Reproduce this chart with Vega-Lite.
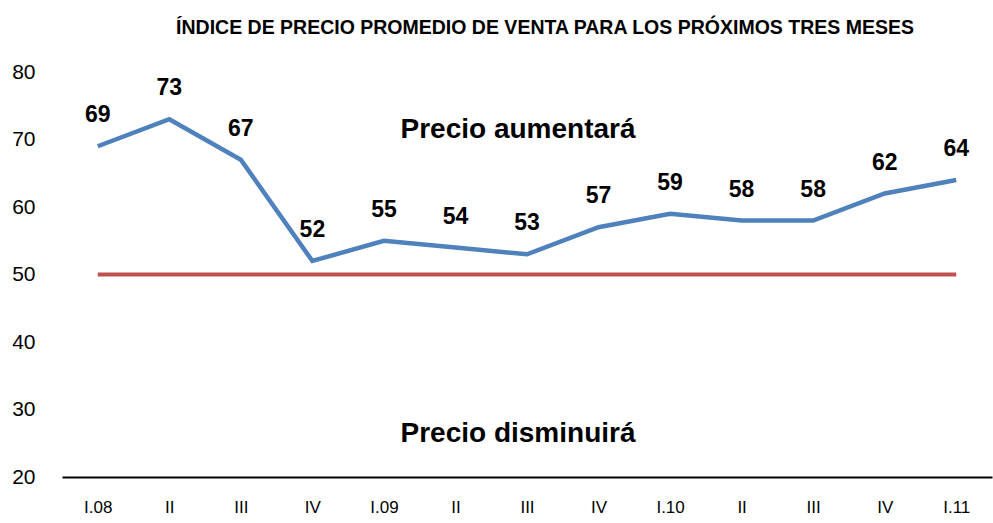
{
  "$schema": "https://vega.github.io/schema/vega-lite/v6.json",
  "width": 930,
  "height": 405,
  "autosize": {"type": "none"},
  "padding": {"left": 62, "top": 72, "right": 1, "bottom": 46},
  "background": "white",
  "title": {
    "text": "ÍNDICE DE PRECIO PROMEDIO DE VENTA PARA LOS PRÓXIMOS TRES MESES",
    "font": "Liberation Sans",
    "fontSize": 19.5,
    "fontWeight": "bold",
    "color": "#000000",
    "anchor": "middle",
    "dx": 18,
    "offset": 23
  },
  "config": {
    "view": {"stroke": null},
    "axis": {"grid": false, "ticks": false, "labelColor": "#000000", "labelFont": "Liberation Sans"}
  },
  "data": {
    "values": [
      {"q": "I.08", "v": 69},
      {"q": "II.08", "v": 73},
      {"q": "III.08", "v": 67},
      {"q": "IV.08", "v": 52},
      {"q": "I.09", "v": 55},
      {"q": "II.09", "v": 54},
      {"q": "III.09", "v": 53},
      {"q": "IV.09", "v": 57},
      {"q": "I.10", "v": 59},
      {"q": "II.10", "v": 58},
      {"q": "III.10", "v": 58},
      {"q": "IV.10", "v": 62},
      {"q": "I.11", "v": 64}
    ]
  },
  "encoding": {
    "x": {
      "field": "q",
      "type": "ordinal",
      "sort": null,
      "scale": {"type": "point", "padding": 0.5},
      "axis": {
        "title": null,
        "labelAngle": 0,
        "labelFontSize": 17,
        "labelPadding": 22,
        "domainColor": "#000000",
        "domainWidth": 2,
        "labelExpr": "indexof(datum.label,'I.')==0 ? datum.label : split(datum.label,'.')[0]"
      }
    }
  },
  "layer": [
    {
      "mark": {"type": "line", "color": "#C0504D", "strokeWidth": 4},
      "encoding": {"y": {"datum": 50, "type": "quantitative"}}
    },
    {
      "mark": {"type": "line", "color": "#4F81BD", "strokeWidth": 4.5},
      "encoding": {
        "y": {
          "field": "v",
          "type": "quantitative",
          "scale": {"domain": [20, 80], "nice": false, "zero": false},
          "axis": {
            "title": null,
            "domain": false,
            "values": [20, 30, 40, 50, 60, 70, 80],
            "labelFontSize": 21,
            "labelPadding": 27
          }
        }
      }
    },
    {
      "mark": {"type": "text", "font": "Liberation Sans", "fontWeight": "bold", "fontSize": 23, "dy": -31, "baseline": "middle", "color": "#000000"},
      "encoding": {
        "y": {"field": "v", "type": "quantitative"},
        "text": {"field": "v", "type": "quantitative"}
      }
    },
    {
      "data": {"values": [{"label": "Precio aumentará", "yv": 71.4}, {"label": "Precio disminuirá", "yv": 26.4}]},
      "mark": {"type": "text", "font": "Liberation Sans", "fontWeight": "bold", "fontSize": 28, "baseline": "middle", "color": "#000000", "x": {"expr": "width/2"}, "dx": -9},
      "encoding": {
        "x": null,
        "y": {"field": "yv", "type": "quantitative"},
        "text": {"field": "label"}
      }
    }
  ]
}
